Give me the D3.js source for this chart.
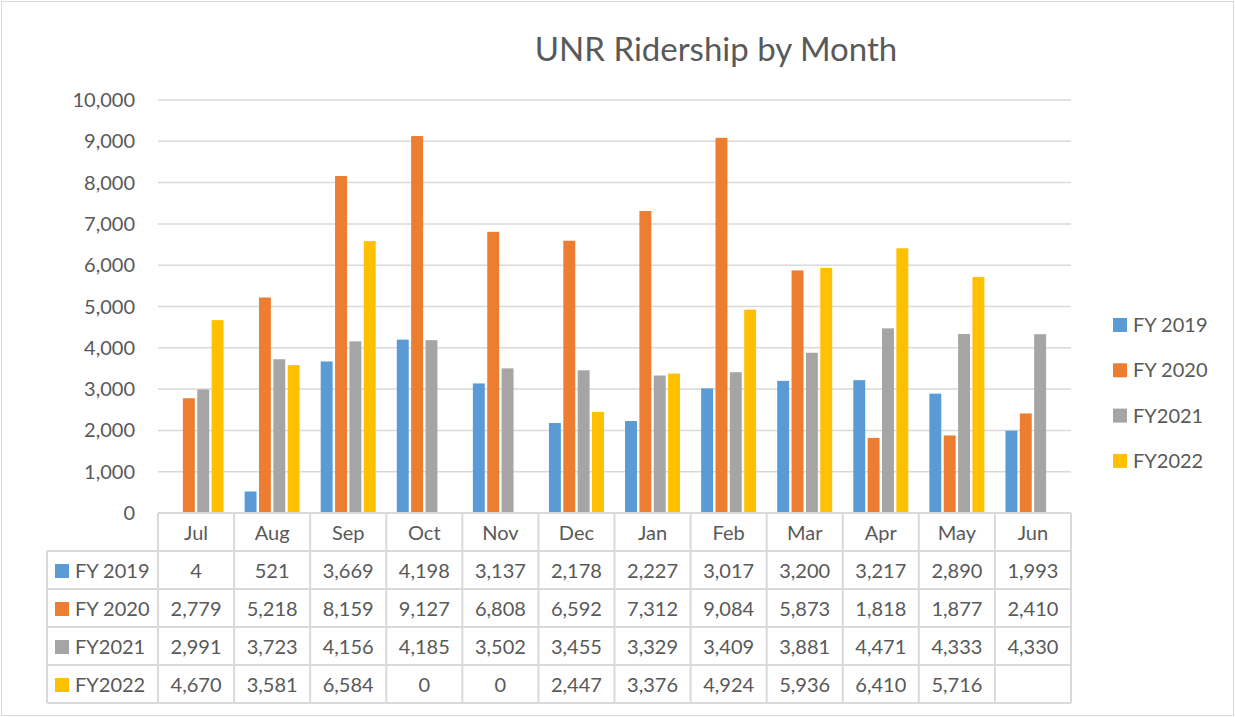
<!DOCTYPE html>
<html>
<head>
<meta charset="utf-8">
<script src="https://cdn.jsdelivr.net/npm/d3@7"></script>
<style>
  body { margin: 0; background: #fff; }
  text { font-family: Lato, "Open Sans", sans-serif; fill: #595959; }
</style>
</head>
<body>
<div id="wrapper"></div>
<script>
const months = ['Jul', 'Aug', 'Sep', 'Oct', 'Nov', 'Dec', 'Jan', 'Feb', 'Mar', 'Apr', 'May', 'Jun']
const seriesNames = ['FY 2019', 'FY 2020', 'FY2021', 'FY2022']
const fy2019 = [4, 521, 3669, 4198, 3137, 2178, 2227, 3017, 3200, 3217, 2890, 1993]
const fy2020 = [2779, 5218, 8159, 9127, 6808, 6592, 7312, 9084, 5873, 1818, 1877, 2410]
const fy2021 = [2991, 3723, 4156, 4185, 3502, 3455, 3329, 3409, 3881, 4471, 4333, 4330]
const fy2022 = [4670, 3581, 6584, 0, 0, 2447, 3376, 4924, 5936, 6410, 5716, null]
const yTicks = [0, 1000, 2000, 3000, 4000, 5000, 6000, 7000, 8000, 9000, 10000]
const colors = ['#5B9BD5', '#ED7D31', '#A5A5A5', '#FFC000']

const seriesValues = [fy2019, fy2020, fy2021, fy2022]

const width = 1235
const height = 717
const plotLeft = 158
const plotRight = 1071
const plotTop = 100
const plotBottom = 513
const rowH = 38

const svg = d3.select('#wrapper')
    .append('svg')
        .attr('width', width)
        .attr('height', height)

// chart border
svg.append('rect')
    .attr('x', 1.5).attr('y', 1.5)
    .attr('width', width - 3).attr('height', height - 3)
    .attr('fill', '#fff')
    .attr('stroke', '#d9d9d9')
    .attr('stroke-width', 1)

svg.append('text')
    .attr('x', 716)
    .attr('y', 61)
    .attr('text-anchor', 'middle')
    .style('font-size', '33px')
    .text('UNR Ridership by Month')

const x = d3.scaleBand()
    .domain(months)
    .range([plotLeft, plotRight])

const xInner = d3.scaleBand()
    .domain(seriesNames)
    .range([0, 55])
    .paddingInner(0.17)

const y = d3.scaleLinear()
    .domain([0, 10000])
    .range([plotBottom, plotTop])

// gridlines
svg.append('g')
    .selectAll('line')
    .data(yTicks)
    .join('line')
        .attr('x1', plotLeft)
        .attr('x2', plotRight)
        .attr('y1', d => y(d))
        .attr('y2', d => y(d))
        .attr('stroke', '#d9d9d9')
        .attr('stroke-width', 1.5)

svg.append('g')
    .selectAll('text')
    .data(yTicks)
    .join('text')
        .attr('x', 135)
        .attr('y', d => y(d))
        .attr('dy', '0.35em')
        .attr('text-anchor', 'end')
        .style('font-size', '20px')
        .text(d => d3.format(',')(d))

// bars
const groupOffset = (x.bandwidth() - 55) / 2
seriesValues.forEach((vals, si) => {
    svg.append('g')
        .selectAll('rect')
        .data(vals.map((v, i) => ({ m: months[i], v: v })).filter(d => d.v !== null))
        .join('rect')
            .attr('x', d => x(d.m) + groupOffset + xInner(seriesNames[si]))
            .attr('width', xInner.bandwidth())
            .attr('y', d => y(d.v))
            .attr('height', d => plotBottom - y(d.v))
            .attr('fill', colors[si])
})

// data table
const table = svg.append('g')
const tableLeft = 47
const gridColor = '#d9d9d9'
const tableBottom = plotBottom + rowH * 5

// horizontal lines
table.append('line')
    .attr('x1', plotLeft).attr('x2', plotRight)
    .attr('y1', plotBottom).attr('y2', plotBottom)
    .attr('stroke', gridColor).attr('stroke-width', 2)
for (let r = 1; r <= 5; r++) {
    table.append('line')
        .attr('x1', tableLeft).attr('x2', plotRight)
        .attr('y1', plotBottom + r * rowH).attr('y2', plotBottom + r * rowH)
        .attr('stroke', gridColor).attr('stroke-width', 2)
}
// vertical lines
table.append('line')
    .attr('x1', tableLeft).attr('x2', tableLeft)
    .attr('y1', plotBottom + rowH).attr('y2', tableBottom)
    .attr('stroke', gridColor).attr('stroke-width', 2)
months.forEach(m => {
    table.append('line')
        .attr('x1', x(m)).attr('x2', x(m))
        .attr('y1', plotBottom).attr('y2', tableBottom)
        .attr('stroke', gridColor).attr('stroke-width', 2)
})
table.append('line')
    .attr('x1', plotRight).attr('x2', plotRight)
    .attr('y1', plotBottom).attr('y2', tableBottom)
    .attr('stroke', gridColor).attr('stroke-width', 2)

// month header
table.selectAll('.month')
    .data(months)
    .join('text')
        .attr('class', 'month')
        .attr('x', d => x(d) + x.bandwidth() / 2)
        .attr('y', plotBottom + rowH / 2 + 1)
        .attr('dy', '0.35em')
        .attr('text-anchor', 'middle')
        .style('font-size', '20px')
        .text(d => d)

seriesValues.forEach((vals, si) => {
    const rowY = plotBottom + rowH * (si + 1) + rowH / 2 + 1
    table.append('rect')
        .attr('x', 55).attr('y', rowY - 7)
        .attr('width', 14).attr('height', 14)
        .attr('fill', colors[si])
    table.append('text')
        .attr('x', 75).attr('y', rowY)
        .attr('dy', '0.35em')
        .style('font-size', '20px')
        .text(seriesNames[si])
    table.append('g')
        .selectAll('text')
        .data(vals.map((v, i) => ({ m: months[i], v: v })).filter(d => d.v !== null))
        .join('text')
            .attr('x', d => x(d.m) + x.bandwidth() / 2)
            .attr('y', rowY)
            .attr('dy', '0.35em')
            .attr('text-anchor', 'middle')
            .style('font-size', '20px')
            .text(d => d3.format(',')(d.v))
})

// legend
const legend = svg.append('g')
seriesNames.forEach((s, i) => {
    const ly = 325 + i * 45.3
    legend.append('rect')
        .attr('x', 1113).attr('y', ly - 7)
        .attr('width', 14).attr('height', 14)
        .attr('fill', colors[i])
    legend.append('text')
        .attr('x', 1133).attr('y', ly)
        .attr('dy', '0.35em')
        .style('font-size', '20px')
        .text(s)
})
</script>
</body>
</html>
